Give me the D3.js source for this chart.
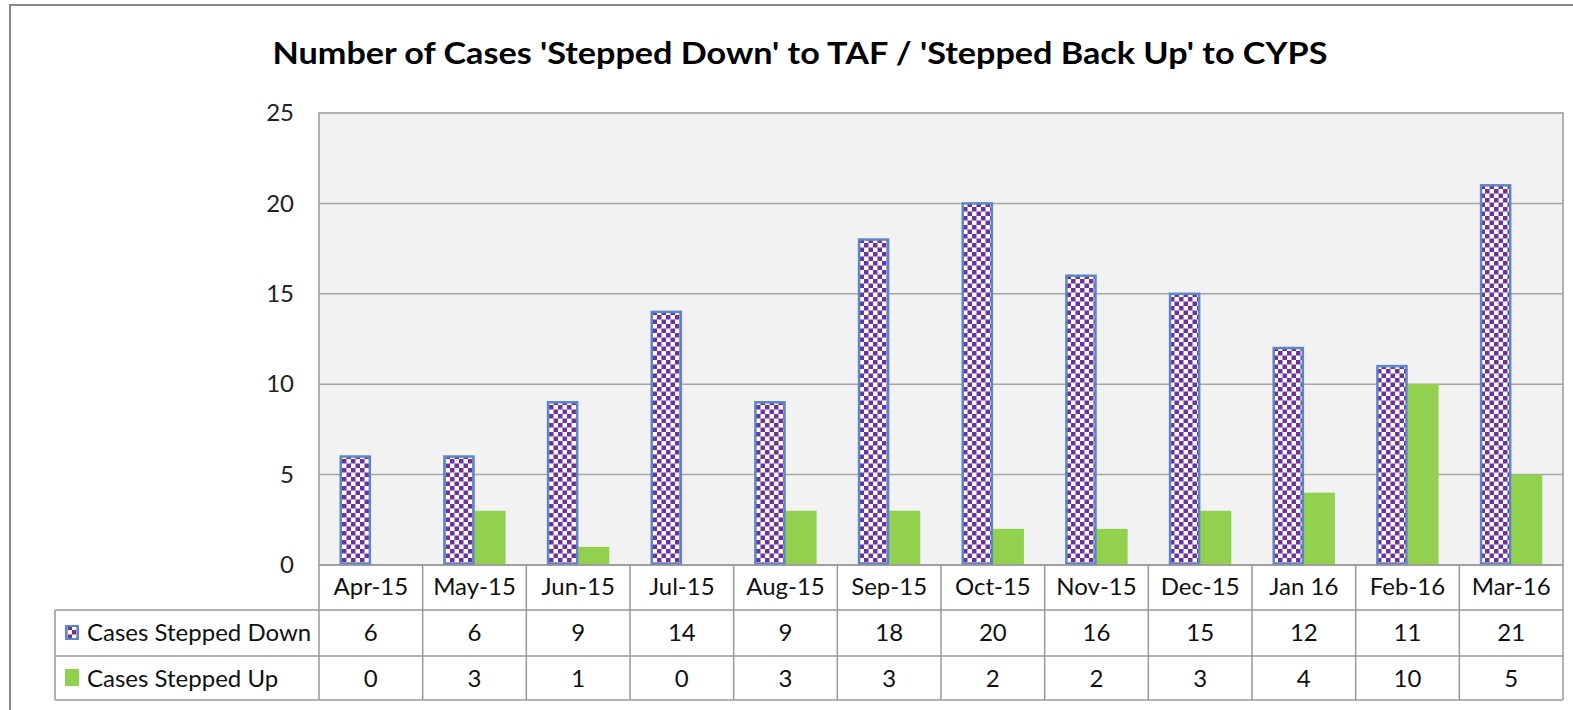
<!DOCTYPE html>
<html><head><meta charset="utf-8">
<script src="https://cdn.jsdelivr.net/npm/d3@7"></script>
<style>
body{margin:0;background:#fff;}
svg{display:block;}
text{font-family:Lato,"Open Sans",sans-serif;}
</style></head>
<body>
<svg id="c" width="1573" height="710"></svg>
<script>
const categories = ["Apr-15","May-15","Jun-15","Jul-15","Aug-15","Sep-15","Oct-15","Nov-15","Dec-15","Jan 16","Feb-16","Mar-16"];
const steppedDown = [6,6,9,14,9,18,20,16,15,12,11,21];
const steppedUp = [0,3,1,0,3,3,2,2,3,4,10,5];
const seriesNames = ["Cases Stepped Down","Cases Stepped Up"];
const yTicks = [0,5,10,15,20,25];
const title = "Number of Cases 'Stepped Down' to TAF / 'Stepped Back Up' to CYPS";

const svg = d3.select("#c");
const L = 319, R = 1563, T = 113, B = 565;
const tableLeft = 55, row1 = 610, row2 = 656, row3 = 700;
const fs = 24;

// pattern
const defs = svg.append("defs");
const cs = 4.5;
const pat = defs.append("pattern").attr("id","chk").attr("patternUnits","userSpaceOnUse")
  .attr("width",cs*2).attr("height",cs*2);
pat.append("rect").attr("width",cs*2).attr("height",cs*2).attr("fill","#fff");
pat.append("rect").attr("width",cs).attr("height",cs).attr("fill","#7030a0");
pat.append("rect").attr("x",cs).attr("y",cs).attr("width",cs).attr("height",cs).attr("fill","#7030a0");

// outer border
svg.append("rect").attr("x",10).attr("y",5).attr("width",1600).attr("height",800)
  .attr("fill","#fff").attr("stroke","#888").attr("stroke-width",2);

// title
svg.append("text").attr("x",800).attr("y",64).attr("text-anchor","middle")
  .attr("font-size",31).attr("font-weight","bold").attr("fill","#000")
  .attr("textLength",1055).attr("lengthAdjust","spacingAndGlyphs").text(title);

const x = d3.scaleBand().domain(categories).range([L,R]);
const y = d3.scaleLinear().domain([0,25]).range([B,T]);

// plot area
svg.append("rect").attr("x",L).attr("y",T).attr("width",R-L).attr("height",B-T)
  .attr("fill","#f2f2f2").attr("stroke","#999").attr("stroke-width",1.5);

// grid
svg.append("g").selectAll("line").data(yTicks.filter(d=>d>0&&d<25)).join("line")
  .attr("x1",L).attr("x2",R).attr("y1",d=>y(d)).attr("y2",d=>y(d))
  .attr("stroke","#a6a6a6").attr("stroke-width",1.5);

// y axis
const yAxis = d3.axisLeft(y).tickValues(yTicks).tickSize(0).tickPadding(25);
const ya = svg.append("g").attr("transform",`translate(${L},0)`).call(yAxis);
ya.select(".domain").remove();
ya.selectAll("text").attr("font-size",fs).attr("fill","#222").attr("font-family","Lato,sans-serif");

const bw = x.bandwidth()*0.3;
const off = x.bandwidth()*0.2;

// stepped up bars (green)
svg.append("g").selectAll("rect").data(steppedUp).join("rect")
  .attr("x",(d,i)=>x(categories[i])+off+bw).attr("width",bw)
  .attr("y",d=>y(d)).attr("height",d=>y(0)-y(d)).attr("fill","#92d050");

// stepped down bars (pattern)
svg.append("g").selectAll("rect").data(steppedDown).join("rect")
  .attr("x",(d,i)=>x(categories[i])+off+1).attr("width",bw-2)
  .attr("y",d=>y(d)).attr("height",d=>y(0)-y(d)-1).attr("fill","url(#chk)")
  .attr("stroke","#5b87c5").attr("stroke-width",2.5);

// redraw baseline
svg.append("line").attr("x1",L).attr("x2",R).attr("y1",B).attr("y2",B).attr("stroke","#999").attr("stroke-width",1.5);

// data table
const tg = svg.append("g");
const lc = "#999";
[row1,row2,row3].forEach(r=>{
  tg.append("line").attr("x1",tableLeft).attr("x2",R).attr("y1",r).attr("y2",r).attr("stroke",lc).attr("stroke-width",1.5);
});
tg.append("line").attr("x1",tableLeft).attr("x2",tableLeft).attr("y1",row1).attr("y2",row3).attr("stroke",lc).attr("stroke-width",1.5);
const bounds = categories.map(c=>x(c)).concat([R]);
tg.selectAll("line.v").data(bounds).join("line").attr("class","v")
  .attr("x1",d=>d).attr("x2",d=>d).attr("y1",B).attr("y2",row3).attr("stroke",lc).attr("stroke-width",1.5);

const cx = c => x(c)+x.bandwidth()/2;
tg.selectAll("text.cat").data(categories).join("text").attr("class","cat")
  .attr("x",d=>cx(d)).attr("y",595).attr("text-anchor","middle")
  .attr("font-size",fs).attr("fill","#111").text(d=>d);
tg.selectAll("text.v1").data(steppedDown).join("text").attr("class","v1")
  .attr("x",(d,i)=>cx(categories[i])).attr("y",641).attr("text-anchor","middle")
  .attr("font-size",fs).attr("fill","#111").text(d=>d);
tg.selectAll("text.v2").data(steppedUp).join("text").attr("class","v2")
  .attr("x",(d,i)=>cx(categories[i])).attr("y",687).attr("text-anchor","middle")
  .attr("font-size",fs).attr("fill","#111").text(d=>d);

// legend keys
tg.append("rect").attr("x",66).attr("y",626).attr("width",12).attr("height",13)
  .attr("fill","url(#chk)").attr("stroke","#5b87c5").attr("stroke-width",2);
tg.append("rect").attr("x",65).attr("y",669).attr("width",14).attr("height",17)
  .attr("fill","#92d050");
tg.selectAll("text.ser").data(seriesNames).join("text").attr("class","ser")
  .attr("x",87).attr("y",(d,i)=>[641,687][i])
  .attr("font-size",fs).attr("fill","#111").text(d=>d);
</script>
</body></html>
